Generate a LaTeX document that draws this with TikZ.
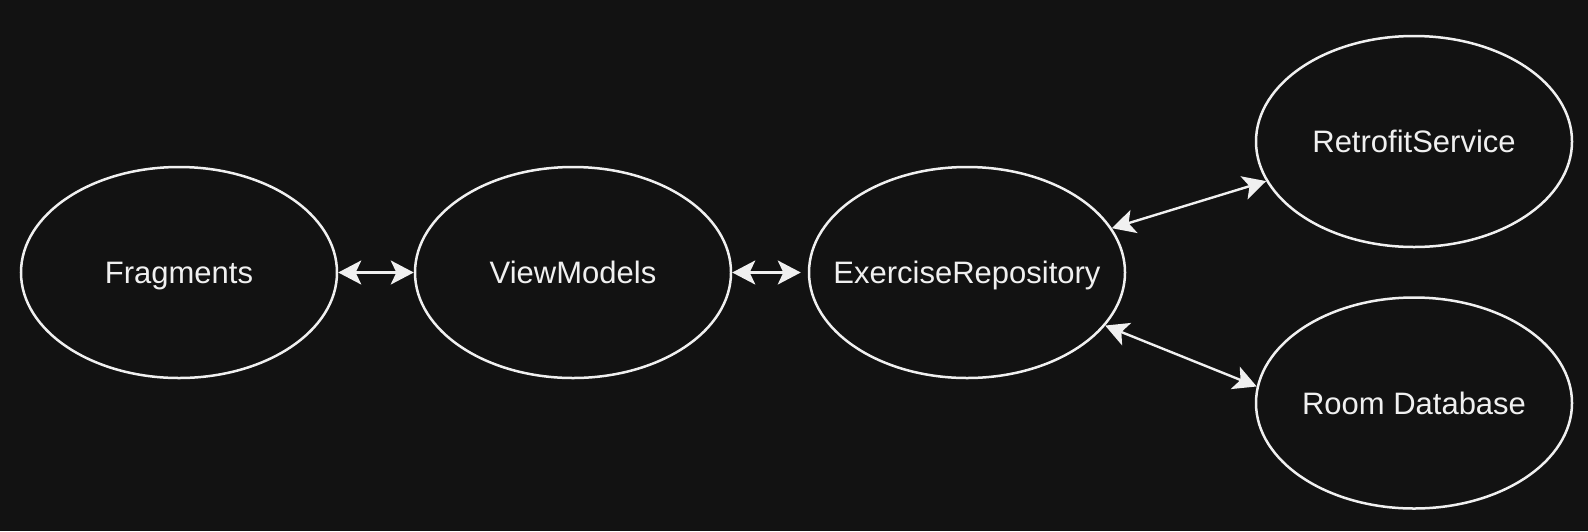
\documentclass[tikz,border=0pt]{standalone}
\usepackage{fontspec}
\setmainfont{Liberation Sans}
\usetikzlibrary{shapes.geometric,arrows.meta}
\definecolor{bg}{HTML}{121212}
\definecolor{fg}{HTML}{F0F0F0}
\begin{document}
\begin{tikzpicture}[x=0.5pt,y=-0.5pt,
  blob/.style={ellipse, draw=fg, line width=1.25pt, minimum width=158pt, minimum height=105.5pt, inner sep=0pt,
    label={[text=fg, font=\fontsize{15.5}{18}\selectfont, inner sep=0pt, text height=11.1pt, text depth=0pt]center:#1}},
  link/.style={draw=fg, line width=1.2pt, {Stealth[length=11.5pt,width=12pt,inset=2.8pt]}-{Stealth[length=11.5pt,width=12pt,inset=2.8pt]}}
]
\fill[bg] (0,0) rectangle (1588,531);
\useasboundingbox (0,0) rectangle (1588,531);
\node[blob=Fragments] (frag) at (179,272.5) {};
\node[blob=ViewModels] (vm) at (573,272.5) {};
\node[blob=ExerciseRepository] (ex) at (967,272.5) {};
\node[blob=RetrofitService] (retro) at (1414,141.5) {};
\node[blob=Room Database] (room) at (1414,403) {};
\draw[link] (frag.east) -- (vm.west);
\draw[link, shorten >=3.5pt] (vm.east) -- (ex.west);
\draw[link] (ex.17.6) -- (retro.195.7);
\draw[link] (ex.-21.8) -- (room.174.5);
\end{tikzpicture}
\end{document}
